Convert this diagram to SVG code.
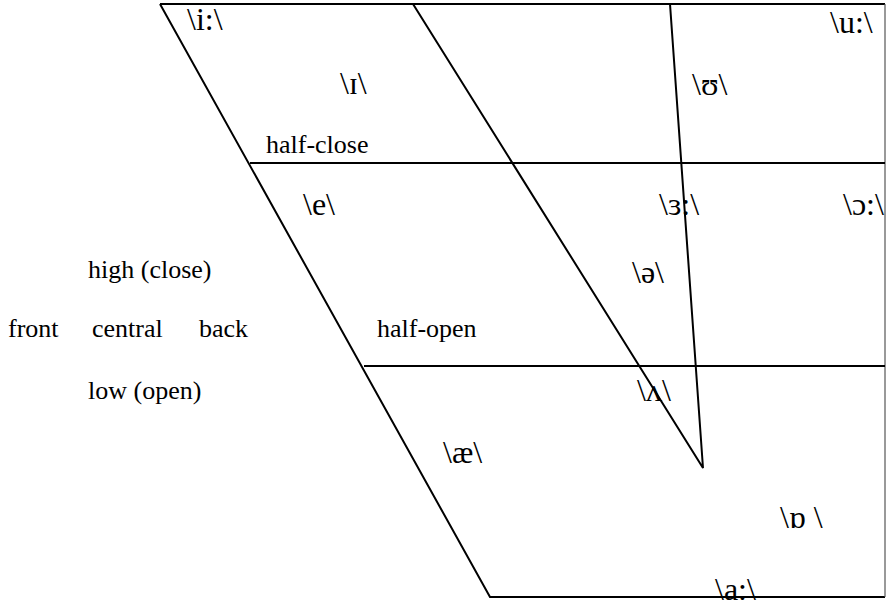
<svg xmlns="http://www.w3.org/2000/svg" width="886" height="606" viewBox="0 0 886 606">
<style>
.ln{stroke:#000;stroke-width:2;fill:none}
</style>
<rect width="886" height="606" fill="#fff"/>
<g id="chart">
<path class="ln" d="M160,4 L885,4 M160,4 L490,597 L885,597"/>
<path d="M885,4 L885,597" stroke="#555" stroke-width="1.2" fill="none"/>
<path class="ln" d="M250,163 L885,163"/>
<path class="ln" d="M364,366 L885,366"/>
<path class="ln" d="M413,4 L703,468 L670,4"/>
</g>
<g id="vowels" font-family="'Liberation Serif', 'Times New Roman', Times, serif" font-size="32" fill="#000">
<text x="187" y="30">\i:\</text>
<text x="340" y="94">\ɪ\</text>
<text x="692" y="95">\ʊ\</text>
<text x="830" y="33">\u:\</text>
<text x="303" y="215">\e\</text>
<text x="659" y="215">\ɜ:\</text>
<text x="843" y="215">\ɔ:\</text>
<text x="632" y="283">\ə\</text>
<text x="637" y="401">\ʌ\</text>
<text x="443" y="463">\æ\</text>
<text x="780" y="528">\ɒ \</text>
<text x="715" y="600">\a:\</text>
</g>
<g id="labels" font-family="'Liberation Serif', 'Times New Roman', Times, serif" font-size="26" fill="#000">
<text x="266" y="153">half-close</text>
<text x="377" y="337">half-open</text>
<text x="88" y="278">high (close)</text>
<text x="8" y="337">front</text>
<text x="92" y="337">central</text>
<text x="199" y="337">back</text>
<text x="88" y="399">low (open)</text>
</g>
</svg>
